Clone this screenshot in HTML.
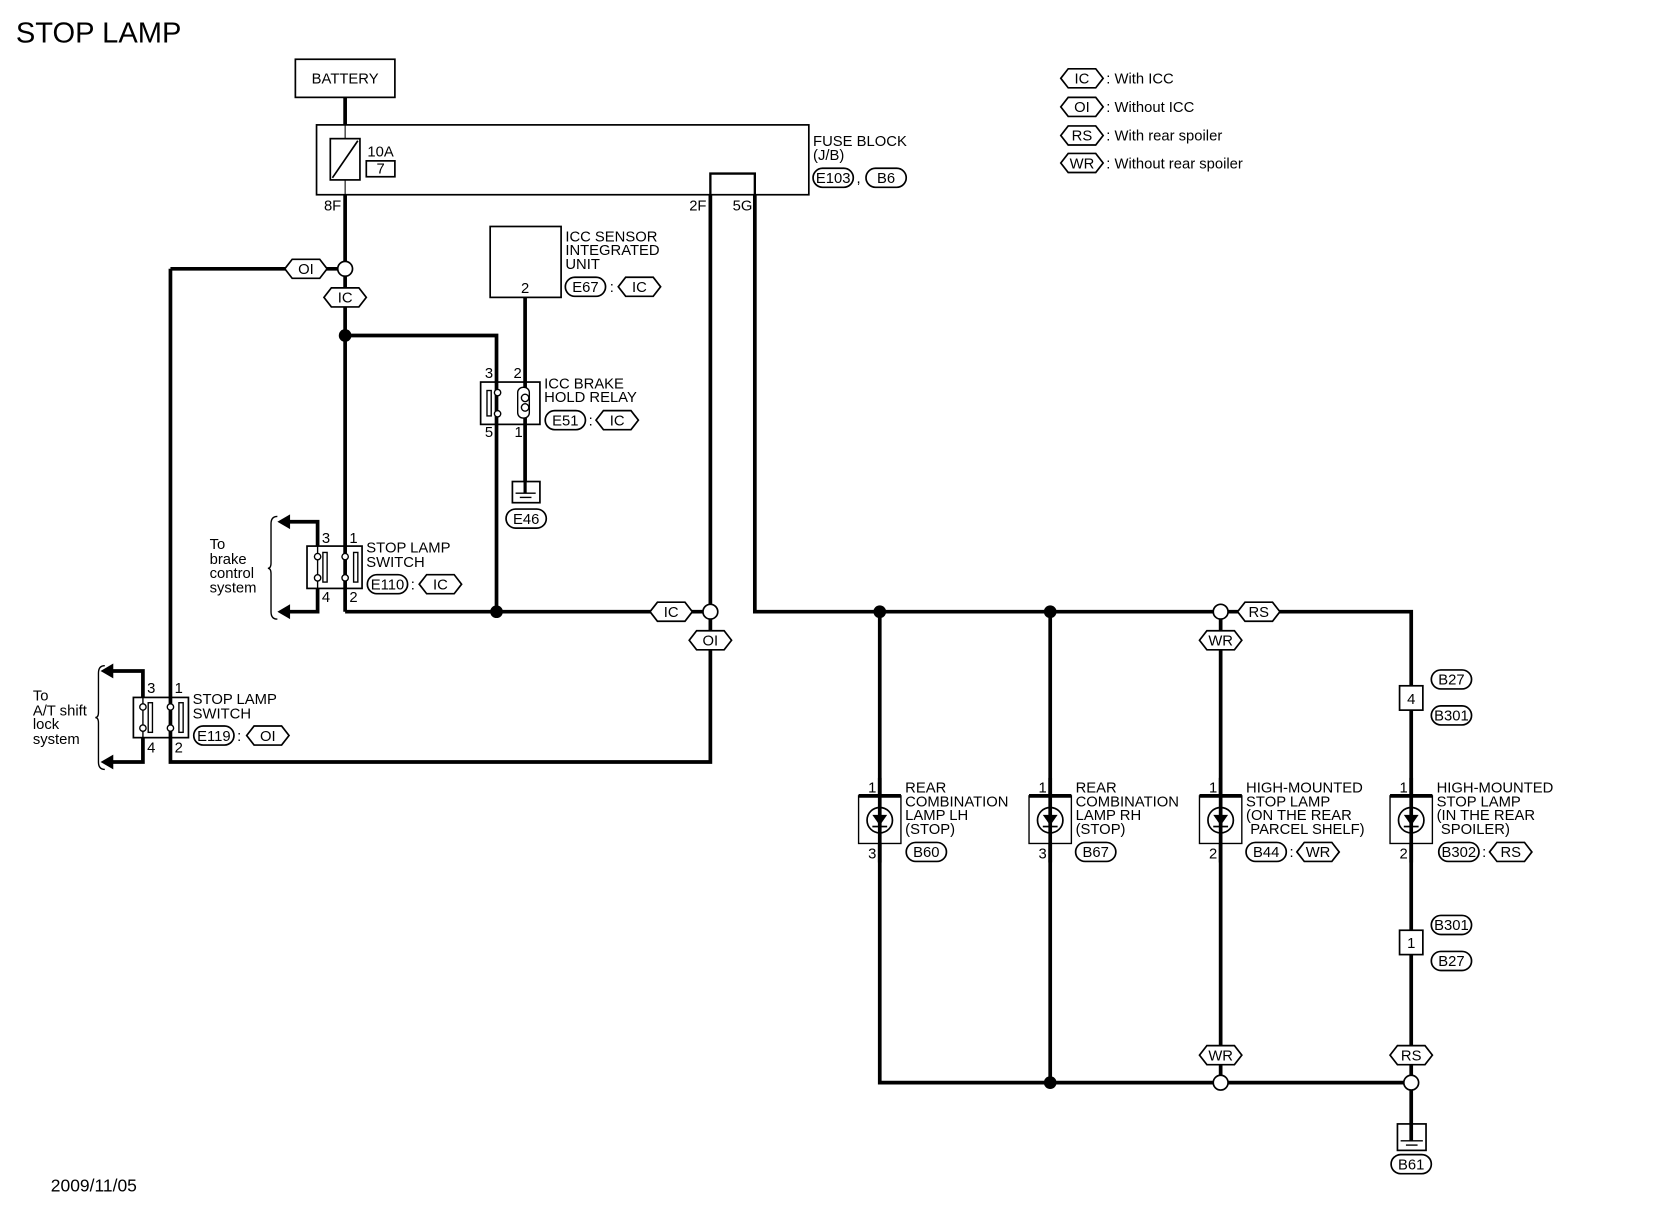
<!DOCTYPE html>
<html><head><meta charset="utf-8"><style>
html,body{margin:0;padding:0;background:#fff;}
svg{display:block;}
text{font-family:"Liberation Sans Narrow","Liberation Sans",sans-serif;font-size:14px;fill:#000;}
</style></head><body>
<svg width="1660" height="1216" viewBox="0 0 1568 1149" preserveAspectRatio="none" xmlns="http://www.w3.org/2000/svg">
<defs>
<g id="hex"><polygon points="-20,0 -13,-9 13,-9 20,0 13,9 -13,9" fill="#fff" stroke="#000" stroke-width="1.6"/></g>
<g id="ov"><rect x="-19" y="-9" width="38" height="18" rx="9" fill="#fff" stroke="#000" stroke-width="1.6"/></g>
<g id="lamp">
<rect x="-20" y="-23" width="40" height="45" fill="#fff" stroke="#000" stroke-width="1.3"/>
<line x1="-20" y1="-23" x2="20" y2="-23" stroke="#000" stroke-width="3.5"/>
<line x1="0" y1="-40" x2="0" y2="40" stroke="#000" stroke-width="3.5"/>
<circle cx="0" cy="0" r="12" fill="none" stroke="#000" stroke-width="1.6"/>
<polygon points="-7,-5 7,-5 0,5" fill="#000"/>
<line x1="-7" y1="6" x2="7" y2="6" stroke="#000" stroke-width="1.6"/>
</g>
</defs>
<text x="15" y="40" style="font-family:'Liberation Sans',sans-serif;font-size:27.5px">STOP LAMP</text>

<g stroke="#000" stroke-width="3.5" fill="none">
<line x1="326" y1="92" x2="326" y2="118"/>
<line x1="326" y1="184" x2="326" y2="578"/>
<line x1="326" y1="578" x2="664" y2="578"/>
<polyline points="326,317 469,317 469,578"/>
<line x1="496" y1="281" x2="496" y2="462"/>
<polyline points="161,254 319,254"/>
<polyline points="161,254 161,720 671,720 671,585"/>
<polyline points="671,571 671,184"/>
<polyline points="713,184 713,578 1333,578 1333,1023 831,1023 831,578"/>
<line x1="992" y1="578" x2="992" y2="1023"/>
<line x1="1153" y1="578" x2="1153" y2="1023"/>
<polyline points="300,516 300,493 272,493"/>
<polyline points="300,556 300,578 272,578"/>
<polyline points="135,659 135,634 105,634"/>
<polyline points="135,697 135,720 105,720"/>
</g>
<polyline points="671,184 671,164 713,164 713,184" fill="none" stroke="#000" stroke-width="2.2"/>
<g fill="#000">
<polygon points="262,493 274,486 274,500"/>
<polygon points="262,578 274,571 274,585"/>
<polygon points="95,634 107,627 107,641"/>
<polygon points="95,720 107,713 107,727"/>
<circle cx="326" cy="317" r="6"/>
<circle cx="469" cy="578" r="6"/>
<circle cx="831" cy="578" r="6"/>
<circle cx="992" cy="578" r="6"/>
<circle cx="992" cy="1023" r="6"/>
</g>
<g fill="#fff" stroke="#000" stroke-width="1.6">
<circle cx="326" cy="254" r="7"/>
<circle cx="671" cy="578" r="7"/>
<circle cx="1153" cy="578" r="7"/>
<circle cx="1153" cy="1023" r="7"/>
<circle cx="1333" cy="1023" r="7"/>
</g>
<path d="M262,488 Q256,488 256,495 L256,532 Q256,537 253,537 Q256,537 256,542 L256,578 Q256,585 262,585" fill="none" stroke="#000" stroke-width="1.3"/>
<path d="M99,629 Q93,629 93,636 L93,673 Q93,678 90,678 Q93,678 93,683 L93,720 Q93,727 99,727" fill="none" stroke="#000" stroke-width="1.3"/>

<rect x="279" y="56" width="94" height="36" fill="#fff" stroke="#000" stroke-width="1.6"/>
<text x="326" y="79" text-anchor="middle" style="font-size:14px">BATTERY</text>
<rect x="299" y="118" width="465" height="66" fill="none" stroke="#000" stroke-width="1.6"/>
<line x1="326" y1="118" x2="326" y2="184" stroke="#000" stroke-width="1"/>
<rect x="312" y="131" width="28" height="39" fill="#fff" stroke="#000" stroke-width="1.6"/>
<line x1="314" y1="168" x2="338" y2="133" stroke="#000" stroke-width="1.6"/>
<text x="347" y="148">10A</text>
<rect x="346" y="152" width="27" height="15" fill="none" stroke="#000" stroke-width="1.6"/>
<text x="359.5" y="164" text-anchor="middle">7</text>
<text x="768" y="138">FUSE BLOCK</text>
<text x="768" y="151">(J/B)</text>
<use href="#ov" x="787" y="168"/><text x="787" y="173" text-anchor="middle">E103</text>
<text x="809" y="173">,</text>
<use href="#ov" x="837" y="168"/><text x="837" y="173" text-anchor="middle">B6</text>
<text x="306" y="199">8F</text>
<text x="651" y="199">2F</text>
<text x="692" y="199">5G</text>

<rect x="463" y="214" width="67" height="67" fill="#fff" stroke="#000" stroke-width="1.6"/>
<text x="496" y="277" text-anchor="middle">2</text>
<text x="534" y="228">ICC SENSOR</text>
<text x="534" y="241">INTEGRATED</text>
<text x="534" y="254">UNIT</text>
<use href="#ov" x="553" y="271"/><text x="553" y="276" text-anchor="middle">E67</text>
<text x="576" y="276">:</text>
<use href="#hex" x="604" y="271"/><text x="604" y="276" text-anchor="middle">IC</text>

<rect x="454" y="361" width="56" height="40" fill="#fff" stroke="#000" stroke-width="1.6"/>
<line x1="469" y1="361" x2="469" y2="401" stroke="#000" stroke-width="3.5"/>
<line x1="496" y1="361" x2="496" y2="401" stroke="#000" stroke-width="3.5"/>
<rect x="460" y="369" width="4" height="24" fill="#fff" stroke="#000" stroke-width="1.3"/>
<circle cx="470" cy="371" r="3" fill="#fff" stroke="#000" stroke-width="1.3"/>
<circle cx="470" cy="391" r="3" fill="#fff" stroke="#000" stroke-width="1.3"/>
<rect x="489" y="366" width="11" height="29" rx="5" fill="#fff" stroke="#000" stroke-width="1.3"/>
<circle cx="496" cy="376" r="3.5" fill="none" stroke="#000" stroke-width="1.3"/>
<circle cx="496" cy="385" r="3.5" fill="none" stroke="#000" stroke-width="1.3"/>
<text x="458" y="357">3</text><text x="485" y="357">2</text>
<text x="458" y="413">5</text><text x="486" y="413">1</text>
<text x="514" y="367">ICC BRAKE</text>
<text x="514" y="380">HOLD RELAY</text>
<use href="#ov" x="534" y="397"/><text x="534" y="402" text-anchor="middle">E51</text>
<text x="556" y="402">:</text>
<use href="#hex" x="583" y="397"/><text x="583" y="402" text-anchor="middle">IC</text>
<rect x="484" y="455" width="26" height="20" fill="#fff" stroke="#000" stroke-width="1.6"/>
<line x1="496" y1="455" x2="496" y2="466" stroke="#000" stroke-width="3"/>
<line x1="487" y1="466" x2="506" y2="466" stroke="#000" stroke-width="1.3"/>
<line x1="491" y1="470" x2="502" y2="470" stroke="#000" stroke-width="1.3"/>
<use href="#ov" x="497" y="490"/><text x="497" y="495" text-anchor="middle">E46</text>

<rect x="290" y="516" width="52" height="40" fill="#fff" stroke="#000" stroke-width="1.6"/>
<line x1="326" y1="516" x2="326" y2="556" stroke="#000" stroke-width="3.5"/>
<line x1="300" y1="516" x2="300" y2="556" stroke="#000" stroke-width="1.3"/>
<rect x="305" y="522" width="4" height="28" fill="#fff" stroke="#000" stroke-width="1.3"/>
<rect x="334" y="522" width="4" height="28" fill="#fff" stroke="#000" stroke-width="1.3"/>
<circle cx="300" cy="526" r="3" fill="#fff" stroke="#000" stroke-width="1.3"/>
<circle cx="300" cy="546" r="3" fill="#fff" stroke="#000" stroke-width="1.3"/>
<circle cx="326" cy="526" r="3" fill="#fff" stroke="#000" stroke-width="1.3"/>
<circle cx="326" cy="546" r="3" fill="#fff" stroke="#000" stroke-width="1.3"/>
<text x="304" y="513">3</text><text x="330" y="513">1</text>
<text x="304" y="569">4</text><text x="330" y="569">2</text>
<text x="346" y="522">STOP LAMP</text>
<text x="346" y="536">SWITCH</text>
<use href="#ov" x="366" y="552"/><text x="366" y="557" text-anchor="middle">E110</text>
<text x="388" y="557">:</text>
<use href="#hex" x="416" y="552"/><text x="416" y="557" text-anchor="middle">IC</text>
<text x="198" y="519">To</text>
<text x="198" y="533">brake</text>
<text x="198" y="546">control</text>
<text x="198" y="560">system</text>

<rect x="126" y="659" width="52" height="38" fill="#fff" stroke="#000" stroke-width="1.6"/>
<line x1="161" y1="659" x2="161" y2="697" stroke="#000" stroke-width="3.5"/>
<line x1="135" y1="659" x2="135" y2="697" stroke="#000" stroke-width="1.3"/>
<rect x="140" y="664" width="4" height="28" fill="#fff" stroke="#000" stroke-width="1.3"/>
<rect x="169" y="664" width="4" height="28" fill="#fff" stroke="#000" stroke-width="1.3"/>
<circle cx="135" cy="668" r="3" fill="#fff" stroke="#000" stroke-width="1.3"/>
<circle cx="135" cy="688" r="3" fill="#fff" stroke="#000" stroke-width="1.3"/>
<circle cx="161" cy="668" r="3" fill="#fff" stroke="#000" stroke-width="1.3"/>
<circle cx="161" cy="688" r="3" fill="#fff" stroke="#000" stroke-width="1.3"/>
<text x="139" y="655">3</text><text x="165" y="655">1</text>
<text x="139" y="711">4</text><text x="165" y="711">2</text>
<text x="182" y="665">STOP LAMP</text>
<text x="182" y="679">SWITCH</text>
<use href="#ov" x="202" y="695"/><text x="202" y="700" text-anchor="middle">E119</text>
<text x="224" y="700">:</text>
<use href="#hex" x="253" y="695"/><text x="253" y="700" text-anchor="middle">OI</text>
<text x="31" y="662">To</text>
<text x="31" y="676">A/T shift</text>
<text x="31" y="689">lock</text>
<text x="31" y="703">system</text>

<use href="#hex" x="289" y="254"/><text x="289" y="259" text-anchor="middle">OI</text>
<use href="#hex" x="326" y="281"/><text x="326" y="286" text-anchor="middle">IC</text>
<use href="#hex" x="634" y="578"/><text x="634" y="583" text-anchor="middle">IC</text>
<use href="#hex" x="671" y="605"/><text x="671" y="610" text-anchor="middle">OI</text>
<use href="#hex" x="1189" y="578"/><text x="1189" y="583" text-anchor="middle">RS</text>
<use href="#hex" x="1153" y="605"/><text x="1153" y="610" text-anchor="middle">WR</text>
<use href="#hex" x="1153" y="997"/><text x="1153" y="1002" text-anchor="middle">WR</text>
<use href="#hex" x="1333" y="997"/><text x="1333" y="1002" text-anchor="middle">RS</text>

<rect x="1322" y="648" width="22" height="23" fill="#fff" stroke="#000" stroke-width="1.6"/>
<text x="1333" y="665" text-anchor="middle">4</text>
<use href="#ov" x="1371" y="642"/><text x="1371" y="647" text-anchor="middle">B27</text>
<use href="#ov" x="1371" y="676"/><text x="1371" y="681" text-anchor="middle">B301</text>
<rect x="1322" y="879" width="22" height="23" fill="#fff" stroke="#000" stroke-width="1.6"/>
<text x="1333" y="896" text-anchor="middle">1</text>
<use href="#ov" x="1371" y="874"/><text x="1371" y="879" text-anchor="middle">B301</text>
<use href="#ov" x="1371" y="908"/><text x="1371" y="913" text-anchor="middle">B27</text>

<use href="#lamp" x="831" y="775"/>
<text x="820" y="749">1</text><text x="820" y="811">3</text>
<text x="855" y="749">REAR</text><text x="855" y="762">COMBINATION</text><text x="855" y="775">LAMP LH</text><text x="855" y="788">(STOP)</text>
<use href="#ov" x="875" y="805"/><text x="875" y="810" text-anchor="middle">B60</text>

<use href="#lamp" x="992" y="775"/>
<text x="981" y="749">1</text><text x="981" y="811">3</text>
<text x="1016" y="749">REAR</text><text x="1016" y="762">COMBINATION</text><text x="1016" y="775">LAMP RH</text><text x="1016" y="788">(STOP)</text>
<use href="#ov" x="1035" y="805"/><text x="1035" y="810" text-anchor="middle">B67</text>

<use href="#lamp" x="1153" y="775"/>
<text x="1142" y="749">1</text><text x="1142" y="811">2</text>
<text x="1177" y="749">HIGH-MOUNTED</text><text x="1177" y="762">STOP LAMP</text><text x="1177" y="775">(ON THE REAR</text><text x="1181" y="788">PARCEL SHELF)</text>
<use href="#ov" x="1196" y="805"/><text x="1196" y="810" text-anchor="middle">B44</text>
<text x="1218" y="810">:</text>
<use href="#hex" x="1245" y="805"/><text x="1245" y="810" text-anchor="middle">WR</text>

<use href="#lamp" x="1333" y="775"/>
<text x="1322" y="749">1</text><text x="1322" y="811">2</text>
<text x="1357" y="749">HIGH-MOUNTED</text><text x="1357" y="762">STOP LAMP</text><text x="1357" y="775">(IN THE REAR</text><text x="1361" y="788">SPOILER)</text>
<use href="#ov" x="1378" y="805"/><text x="1378" y="810" text-anchor="middle">B302</text>
<text x="1400" y="810">:</text>
<use href="#hex" x="1427" y="805"/><text x="1427" y="810" text-anchor="middle">RS</text>

<rect x="1320" y="1062" width="27" height="25" fill="#fff" stroke="#000" stroke-width="1.6"/>
<line x1="1333" y1="1030" x2="1333" y2="1078" stroke="#000" stroke-width="3.5"/>
<line x1="1323" y1="1078" x2="1344" y2="1078" stroke="#000" stroke-width="1.3"/>
<line x1="1328" y1="1082" x2="1339" y2="1082" stroke="#000" stroke-width="1.3"/>
<use href="#ov" x="1333" y="1100"/><text x="1333" y="1105" text-anchor="middle">B61</text>

<use href="#hex" x="1022" y="74"/><text x="1022" y="79" text-anchor="middle">IC</text>
<text x="1045" y="79">: With ICC</text>
<use href="#hex" x="1022" y="101"/><text x="1022" y="106" text-anchor="middle">OI</text>
<text x="1045" y="106">: Without ICC</text>
<use href="#hex" x="1022" y="128"/><text x="1022" y="133" text-anchor="middle">RS</text>
<text x="1045" y="133">: With rear spoiler</text>
<use href="#hex" x="1022" y="154"/><text x="1022" y="159" text-anchor="middle">WR</text>
<text x="1045" y="159">: Without rear spoiler</text>

<text x="48" y="1126" style="font-family:'Liberation Sans',sans-serif;font-size:16.5px">2009/11/05</text>
</svg>
</body></html>
